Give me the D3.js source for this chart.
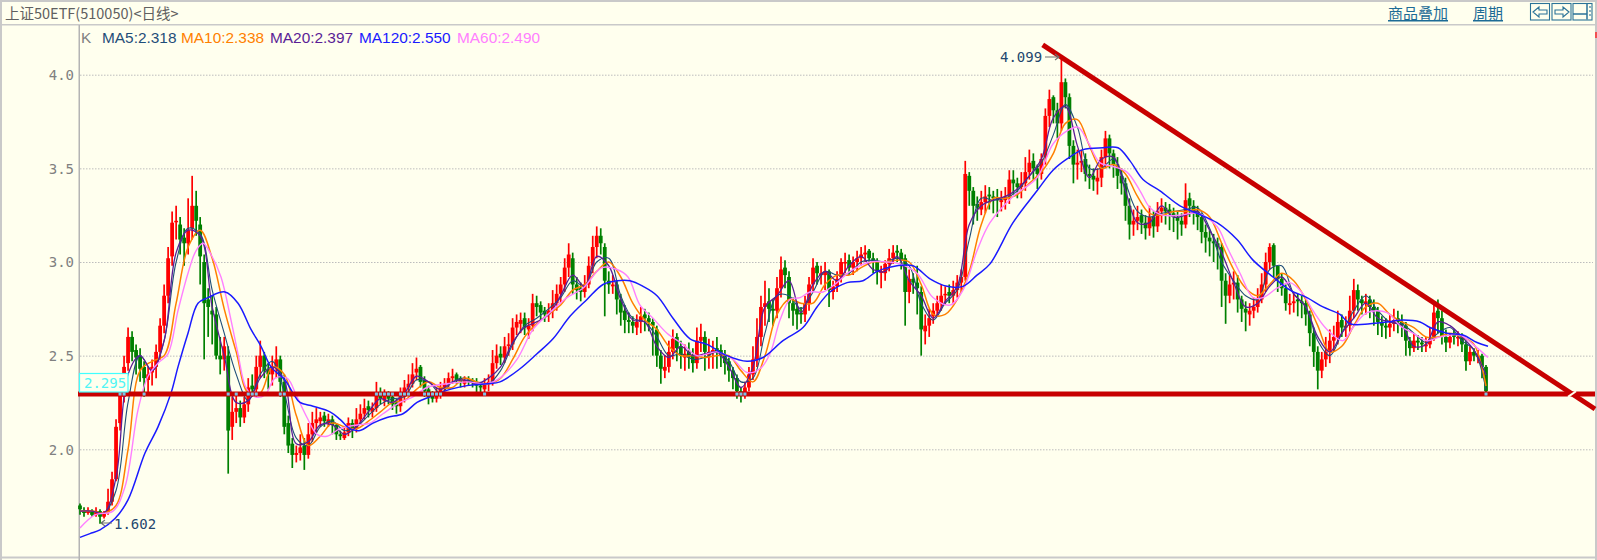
<!DOCTYPE html>
<html><head><meta charset="utf-8">
<script src="https://cdn.jsdelivr.net/npm/d3@7/dist/d3.min.js"></script>
<style>html,body{margin:0;padding:0;background:#ffffee;overflow:hidden}svg{display:block}</style>
</head><body><svg id="c" width="1597" height="560"></svg>
<script>
const closes=[
1.68,1.66,1.67,1.65,1.67,1.64,1.66,1.72,1.84,2.12, 2.30,2.44,2.60,2.52,2.49,2.43,2.38,2.40,2.44,2.52,
2.66,2.82,3.02,3.21,3.22,3.12,3.10,3.17,3.30,3.22, 3.03,2.78,2.76,2.72,2.50,2.48,2.55,2.10,2.20,2.22,
2.17,2.24,2.33,2.32,2.44,2.50,2.42,2.40,2.44,2.48, 2.36,2.12,2.02,1.97,1.98,2.01,1.97,2.08,2.14,2.16,
2.17,2.15,2.16,2.13,2.08,2.07,2.09,2.14,2.11,2.16, 2.19,2.22,2.21,2.22,2.29,2.27,2.29,2.27,2.24,2.23,
2.29,2.33,2.35,2.40,2.43,2.36,2.31,2.28,2.27,2.30, 2.33,2.35,2.38,2.39,2.37,2.36,2.37,2.36,2.36,2.34,
2.33,2.35,2.36,2.46,2.50,2.49,2.55,2.56,2.65,2.68, 2.69,2.65,2.66,2.78,2.76,2.73,2.72,2.74,2.78,2.83,
2.88,2.97,3.04,2.88,2.85,2.84,2.88,2.98,3.08,3.14, 3.10,2.90,2.88,2.88,2.80,2.73,2.69,2.68,2.66,2.68,
2.71,2.70,2.68,2.66,2.50,2.43,2.44,2.52,2.59,2.54, 2.50,2.51,2.49,2.46,2.58,2.60,2.52,2.52,2.53,2.52,
2.50,2.46,2.42,2.38,2.31,2.30,2.33,2.40,2.48,2.60, 2.76,2.78,2.75,2.74,2.86,2.96,2.93,2.78,2.74,2.72,
2.72,2.78,2.88,2.97,2.94,2.94,2.95,2.85,2.87,2.91, 3.00,3.00,2.97,3.00,3.02,3.04,3.05,3.02,3.00,2.95,
2.95,2.99,3.02,3.05,3.05,3.01,2.84,2.91,2.89,2.86, 2.64,2.66,2.70,2.74,2.78,2.82,2.83,2.82,2.85,2.89,
2.92,3.47,3.38,3.30,3.29,3.32,3.35,3.35,3.34,3.33, 3.33,3.35,3.44,3.42,3.40,3.42,3.48,3.53,3.50,3.47,
3.55,3.78,3.87,3.81,3.74,3.96,3.88,3.62,3.52,3.53, 3.54,3.47,3.46,3.44,3.45,3.56,3.66,3.58,3.52,3.46,
3.42,3.30,3.20,3.22,3.24,3.21,3.18,3.24,3.19,3.27, 3.29,3.27,3.26,3.24,3.22,3.20,3.33,3.30,3.27,3.24,
3.16,3.13,3.11,3.10,3.08,2.90,2.82,2.88,2.89,2.80, 2.75,2.73,2.74,2.76,2.80,2.88,3.00,3.08,2.98,2.91,
2.86,2.78,2.78,2.79,2.79,2.78,2.72,2.62,2.52,2.42, 2.48,2.52,2.58,2.60,2.68,2.65,2.66,2.74,2.85,2.80,
2.78,2.79,2.76,2.74,2.68,2.66,2.65,2.67,2.69,2.68, 2.66,2.58,2.54,2.58,2.57,2.56,2.56,2.59,2.73,2.70,
2.60,2.57,2.60,2.60,2.60,2.56,2.47,2.52,2.50,2.50, 2.44,2.31];
const opens=[
1.70,1.67,1.66,1.67,1.65,1.67,1.64,1.66,1.72,1.84, 2.14,2.28,2.46,2.60,2.53,2.50,2.44,2.37,2.41,2.44,
2.52,2.66,2.82,3.03,3.22,3.20,3.13,3.10,3.18,3.30, 3.20,3.00,2.80,2.74,2.72,2.50,2.48,2.50,2.12,2.20,
2.22,2.17,2.24,2.34,2.32,2.44,2.50,2.43,2.40,2.44, 2.48,2.36,2.14,2.03,1.97,1.98,2.02,1.97,2.08,2.14,
2.15,2.18,2.14,2.16,2.13,2.08,2.06,2.09,2.14,2.11, 2.16,2.19,2.23,2.20,2.22,2.30,2.26,2.30,2.28,2.25,
2.23,2.28,2.33,2.35,2.41,2.44,2.37,2.32,2.29,2.27, 2.30,2.33,2.35,2.38,2.40,2.38,2.35,2.37,2.37,2.36,
2.34,2.32,2.35,2.36,2.46,2.51,2.49,2.56,2.56,2.65, 2.67,2.70,2.64,2.66,2.78,2.77,2.74,2.72,2.74,2.78,
2.83,2.88,2.97,3.02,2.88,2.86,2.84,2.88,2.98,3.08, 3.14,3.08,2.90,2.87,2.88,2.80,2.74,2.69,2.68,2.65,
2.68,2.72,2.70,2.68,2.64,2.50,2.42,2.44,2.52,2.60, 2.55,2.49,2.52,2.50,2.46,2.58,2.60,2.50,2.52,2.54,
2.53,2.50,2.47,2.42,2.38,2.31,2.29,2.33,2.40,2.48, 2.60,2.76,2.79,2.75,2.74,2.86,2.97,2.92,2.78,2.75,
2.73,2.72,2.78,2.88,2.98,2.93,2.93,2.95,2.84,2.87, 2.92,3.00,3.01,2.97,3.00,3.02,3.04,3.06,3.02,3.00,
2.95,2.94,2.99,3.02,3.06,3.05,3.02,2.84,2.91,2.89, 2.84,2.63,2.66,2.71,2.74,2.78,2.83,2.84,2.82,2.85,
2.89,2.92,3.46,3.38,3.31,3.28,3.32,3.36,3.35,3.34, 3.32,3.33,3.35,3.44,3.42,3.40,3.42,3.48,3.54,3.50,
3.47,3.56,3.78,3.88,3.81,3.74,3.96,3.88,3.62,3.52, 3.53,3.55,3.47,3.46,3.43,3.45,3.56,3.66,3.58,3.52,
3.46,3.42,3.30,3.20,3.22,3.25,3.21,3.18,3.24,3.19, 3.27,3.29,3.28,3.26,3.24,3.22,3.20,3.34,3.30,3.27,
3.24,3.16,3.13,3.11,3.10,3.08,2.90,2.82,2.88,2.89, 2.80,2.75,2.72,2.74,2.76,2.80,2.88,3.00,3.09,2.98,
2.91,2.86,2.77,2.78,2.80,2.79,2.78,2.72,2.62,2.52, 2.42,2.48,2.52,2.58,2.60,2.69,2.65,2.66,2.74,2.85,
2.80,2.78,2.80,2.76,2.74,2.68,2.66,2.65,2.67,2.70, 2.68,2.66,2.58,2.54,2.58,2.57,2.55,2.56,2.60,2.74,
2.70,2.60,2.57,2.61,2.60,2.60,2.56,2.47,2.52,2.50, 2.50,2.44];
const highs=[
1.71,1.69,1.69,1.68,1.69,1.68,1.67,1.79,1.88,2.16, 2.34,2.50,2.65,2.63,2.56,2.54,2.47,2.44,2.48,2.56,
2.70,2.88,3.08,3.27,3.30,3.24,3.18,3.34,3.46,3.38, 3.24,3.04,2.86,2.82,2.76,2.60,2.60,2.55,2.28,2.30,
2.26,2.28,2.38,2.40,2.50,2.58,2.52,2.46,2.50,2.55, 2.50,2.40,2.18,2.06,2.02,2.08,2.06,2.14,2.20,2.22,
2.20,2.20,2.19,2.18,2.14,2.10,2.12,2.17,2.16,2.22, 2.24,2.27,2.26,2.25,2.36,2.33,2.32,2.31,2.30,2.27,
2.33,2.37,2.40,2.46,2.49,2.45,2.39,2.34,2.31,2.33, 2.36,2.38,2.41,2.43,2.41,2.39,2.39,2.39,2.38,2.38,
2.36,2.38,2.40,2.53,2.56,2.55,2.60,2.62,2.70,2.72, 2.73,2.73,2.70,2.83,2.82,2.79,2.76,2.78,2.85,2.88,
2.92,3.02,3.10,3.05,2.92,2.89,2.93,3.03,3.14,3.19, 3.18,3.10,2.95,2.93,2.90,2.83,2.77,2.73,2.71,2.72,
2.76,2.75,2.73,2.70,2.66,2.53,2.50,2.58,2.64,2.62, 2.58,2.56,2.57,2.54,2.65,2.67,2.63,2.59,2.58,2.60,
2.56,2.53,2.49,2.44,2.40,2.33,2.36,2.44,2.55,2.70, 2.82,2.90,2.86,2.80,2.92,3.03,3.01,2.95,2.81,2.79,
2.76,2.82,2.92,3.02,3.00,2.98,3.00,2.96,2.90,2.95, 3.02,3.05,3.04,3.03,3.06,3.08,3.09,3.07,3.05,3.02,
2.98,3.01,3.07,3.09,3.09,3.07,3.04,2.96,2.94,2.98, 2.87,2.72,2.75,2.78,2.82,2.88,2.87,2.88,2.90,2.93,
2.96,3.54,3.48,3.40,3.35,3.38,3.41,3.40,3.38,3.39, 3.38,3.40,3.49,3.49,3.45,3.48,3.56,3.60,3.58,3.52,
3.58,3.82,3.92,3.89,3.85,4.099,3.98,3.90,3.65,3.60, 3.60,3.58,3.52,3.50,3.50,3.60,3.70,3.68,3.60,3.56,
3.50,3.45,3.34,3.28,3.30,3.28,3.25,3.30,3.27,3.32, 3.34,3.32,3.31,3.29,3.27,3.26,3.42,3.37,3.33,3.30,
3.26,3.20,3.17,3.15,3.13,3.10,2.94,2.93,2.95,2.93, 2.82,2.79,2.78,2.81,2.86,2.94,3.05,3.10,3.10,2.96,
2.94,2.88,2.83,2.84,2.83,2.82,2.80,2.74,2.65,2.55, 2.52,2.60,2.64,2.66,2.74,2.72,2.71,2.82,2.91,2.88,
2.82,2.83,2.82,2.80,2.76,2.71,2.70,2.72,2.75,2.74, 2.72,2.68,2.60,2.62,2.61,2.60,2.60,2.65,2.78,2.80,
2.74,2.64,2.62,2.64,2.63,2.62,2.58,2.55,2.54,2.53, 2.51,2.45];
const lows=[
1.65,1.64,1.65,1.64,1.64,1.602,1.63,1.65,1.70,1.83, 2.10,2.25,2.42,2.47,2.40,2.36,2.28,2.30,2.34,2.38,
2.48,2.62,2.78,2.98,3.12,3.04,2.98,3.04,3.12,3.14, 2.88,2.48,2.60,2.56,2.48,2.40,2.42,1.87,2.05,2.14,
2.12,2.14,2.20,2.28,2.28,2.38,2.38,2.32,2.34,2.38, 2.28,2.08,1.98,1.90,1.93,1.94,1.89,1.95,2.04,2.09,
2.12,2.12,2.12,2.08,2.05,2.05,2.05,2.07,2.06,2.09, 2.13,2.16,2.17,2.17,2.20,2.24,2.23,2.24,2.21,2.19,
2.20,2.25,2.29,2.33,2.37,2.33,2.28,2.24,2.25,2.25, 2.27,2.31,2.33,2.35,2.35,2.33,2.33,2.34,2.33,2.30,
2.30,2.29,2.31,2.34,2.43,2.45,2.46,2.50,2.53,2.61, 2.62,2.61,2.59,2.63,2.71,2.69,2.68,2.68,2.70,2.74,
2.78,2.84,2.92,2.83,2.80,2.79,2.81,2.86,2.94,3.02, 3.04,2.71,2.83,2.83,2.72,2.66,2.62,2.62,2.62,2.61,
2.62,2.63,2.63,2.50,2.44,2.35,2.38,2.41,2.48,2.47, 2.43,2.42,2.43,2.41,2.43,2.52,2.42,2.43,2.43,2.43,
2.44,2.40,2.36,2.32,2.27,2.25,2.27,2.31,2.37,2.44, 2.55,2.66,2.68,2.66,2.70,2.81,2.86,2.70,2.66,2.64,
2.67,2.68,2.74,2.84,2.88,2.88,2.85,2.76,2.80,2.84, 2.89,2.94,2.93,2.93,2.95,2.98,3.00,2.99,2.94,2.88,
2.86,2.90,2.95,2.99,3.00,2.96,2.66,2.78,2.83,2.72, 2.50,2.56,2.60,2.67,2.71,2.74,2.77,2.78,2.78,2.81,
2.84,2.90,3.30,3.20,3.22,3.25,3.26,3.28,3.26,3.24, 3.27,3.28,3.31,3.36,3.34,3.34,3.38,3.44,3.44,3.39,
3.44,3.52,3.72,3.74,3.66,3.70,3.82,3.55,3.42,3.44, 3.48,3.43,3.39,3.38,3.36,3.40,3.50,3.50,3.45,3.39,
3.36,3.22,3.12,3.14,3.17,3.15,3.12,3.14,3.13,3.16, 3.21,3.20,3.17,3.16,3.12,3.14,3.18,3.24,3.20,3.17,
3.10,3.05,3.03,3.00,2.96,2.76,2.67,2.78,2.80,2.73, 2.68,2.63,2.66,2.70,2.73,2.78,2.84,2.96,2.92,2.84,
2.82,2.74,2.72,2.73,2.71,2.70,2.66,2.55,2.44,2.32, 2.38,2.44,2.46,2.52,2.56,2.60,2.60,2.62,2.70,2.74,
2.72,2.72,2.70,2.66,2.61,2.60,2.59,2.60,2.63,2.62, 2.60,2.50,2.50,2.52,2.53,2.52,2.52,2.54,2.58,2.62,
2.56,2.52,2.54,2.56,2.55,2.52,2.42,2.45,2.47,2.46, 2.38,2.285];

// short moving averages, read every third session
const ma5=[
1.67,1.67,1.66,1.78,2.25,2.50,2.42,2.58,3.00,3.18, 3.15,2.85,2.62,2.40,2.26,2.40,2.47,2.30,2.06,2.02,
2.12,2.15,2.10,2.12,2.18,2.24,2.27,2.28,2.37,2.36, 2.30,2.36,2.38,2.35,2.35,2.42,2.56,2.66,2.70,2.75,
2.81,2.90,2.87,3.00,3.02,2.82,2.70,2.68,2.60,2.50, 2.51,2.48,2.49,2.52,2.47,2.36,2.38,2.62,2.82,2.82,
2.75,2.84,2.95,2.93,2.94,3.00,3.01,3.00,3.02,2.98, 2.78,2.69,2.78,2.85,3.12,3.34,3.33,3.34,3.38,3.46,
3.53,3.68,3.84,3.72,3.50,3.50,3.55,3.42,3.27,3.24, 3.26,3.27,3.28,3.29,3.18,3.00,2.90,2.82,2.80,2.96,
2.98,2.83,2.76,2.58,2.50,2.62,2.74,2.82,2.74,2.68, 2.67,2.62,2.57,2.62,2.65,2.58,2.53,2.318];
const ma10=[
1.67,1.67,1.66,1.70,2.00,2.42,2.47,2.50,2.78,3.08, 3.17,3.02,2.75,2.52,2.30,2.30,2.44,2.40,2.18,2.02,
2.07,2.14,2.12,2.11,2.15,2.20,2.25,2.26,2.32,2.36, 2.33,2.33,2.38,2.36,2.35,2.38,2.48,2.60,2.67,2.72,
2.77,2.85,2.88,2.95,3.00,2.92,2.78,2.69,2.64,2.55, 2.50,2.50,2.49,2.50,2.50,2.42,2.36,2.50,2.72,2.80,
2.78,2.78,2.88,2.93,2.93,2.97,3.00,3.00,3.01,3.00, 2.88,2.72,2.72,2.80,2.95,3.20,3.34,3.34,3.36,3.42,
3.48,3.58,3.74,3.76,3.62,3.50,3.52,3.47,3.35,3.26, 3.25,3.27,3.27,3.28,3.24,3.10,2.96,2.86,2.82,2.88,
2.94,2.90,2.80,2.66,2.52,2.55,2.66,2.76,2.78,2.72, 2.68,2.65,2.60,2.60,2.62,2.60,2.56,2.338];
const ma20=[
1.67,1.67,1.66,1.85,2.40,2.50,2.42,2.58,3.05,3.17, 3.14,2.76,2.50,2.25,2.26,2.38,2.44,2.37,2.03,2.04,
2.13,2.13,2.08,2.12,2.20,2.27,2.25,2.30,2.39,2.36, 2.32,2.36,2.37,2.35,2.38,2.44,2.57,2.65,2.68,2.72,
2.82,2.93,2.87,3.03,2.98,2.80,2.69,2.68,2.55,2.49, 2.55,2.50,2.51,2.52,2.44,2.33,2.44,2.76,2.82,2.90,
2.73,2.88,2.95,2.90,2.98,3.03,2.96,2.95,3.03,2.90, 2.82,2.70,2.79,2.87,3.20,3.30,3.33,3.35,3.39,3.46,
3.55,3.77,3.83,3.62,3.45,3.55,3.56,3.38,3.21,3.21, 3.30,3.24,3.25,3.27,3.17,3.05,2.89,2.76,2.78,2.87,
2.92,2.83,2.76,2.60,2.52,2.62,2.70,2.78,2.70,2.68, 2.66,2.55,2.56,2.68,2.66,2.60,2.53,2.397];

// long moving averages, read at their turning points
const ma60Px=[80,95,113,125,138,148,158,168,178,188,196,203,211,221,231,238,246,255,265,275,287,297,307,317,327,340,357,370,383,400,413,427,447,467,487,500,517,533,550,567,583,602,617,628,640,653,667,683,697,717,733,747,760,770,780,790,800,810,823,837,850,870,887,900,917,933,950,963,977,990,1013,1037,1053,1067,1078,1088,1100,1113,1127,1140,1150,1163,1180,1197,1217,1227,1240,1253,1263,1277,1290,1303,1313,1327,1343,1353,1367,1387,1400,1413,1427,1440,1460,1473,1488];
const ma60=[1.58,1.65,1.67,1.80,2.21,2.39,2.46,2.51,2.74,2.94,3.06,3.10,3.04,2.92,2.69,2.51,2.33,2.28,2.29,2.38,2.38,2.28,2.17,2.08,2.07,2.11,2.13,2.14,2.19,2.25,2.28,2.33,2.35,2.36,2.35,2.38,2.48,2.64,2.73,2.81,2.86,2.97,2.96,2.92,2.77,2.70,2.62,2.56,2.50,2.52,2.48,2.41,2.43,2.51,2.69,2.80,2.81,2.84,2.84,2.89,2.95,3.00,3.00,2.99,2.94,2.81,2.77,2.85,3.06,3.21,3.35,3.45,3.63,3.70,3.72,3.64,3.53,3.51,3.48,3.38,3.29,3.25,3.25,3.26,3.19,3.08,2.94,2.81,2.81,2.86,2.89,2.83,2.74,2.64,2.58,2.65,2.73,2.73,2.66,2.62,2.58,2.60,2.61,2.56,2.49];
const ma120Px=[80,90,100,115,128,145,158,171,178,188,198,208,225,238,251,261,271,285,293,300,313,330,340,350,360,373,387,403,417,430,450,467,487,500,520,537,553,570,587,603,617,630,643,657,673,690,707,727,747,763,783,803,817,830,847,863,877,897,913,930,947,963,977,990,1013,1037,1053,1067,1083,1103,1118,1130,1143,1160,1180,1197,1217,1237,1253,1273,1290,1307,1323,1340,1350,1370,1387,1403,1420,1430,1447,1463,1477,1488];
const ma120=[1.53,1.55,1.57,1.63,1.73,1.98,2.12,2.30,2.44,2.62,2.78,2.81,2.84,2.78,2.64,2.55,2.44,2.37,2.30,2.25,2.23,2.20,2.16,2.11,2.10,2.14,2.17,2.19,2.25,2.28,2.32,2.34,2.35,2.36,2.43,2.51,2.59,2.71,2.80,2.88,2.90,2.90,2.87,2.82,2.70,2.59,2.56,2.50,2.47,2.49,2.58,2.65,2.76,2.84,2.89,2.90,2.95,2.98,2.98,2.91,2.87,2.87,2.93,2.99,3.21,3.38,3.49,3.55,3.60,3.61,3.61,3.54,3.44,3.38,3.30,3.26,3.21,3.12,3.01,2.92,2.85,2.81,2.76,2.72,2.67,2.67,2.68,2.69,2.68,2.65,2.62,2.61,2.57,2.55];

const gridTicks=[2.0,2.5,3.0,3.5,4.0];
const legendItems=[["K","#808080",81],["MA5:2.318","#1f4e79",102],["MA10:2.338","#ff8000",181],["MA20:2.397","#5a1e96",270],["MA120:2.550","#1a1aff",359],["MA60:2.490","#ff80ff",457]];
const supportPrice=2.295;
const trendX=[1042.7,1595], trendP=[4.159,2.215];
const BG="#ffffee", RED="#c80000";

const svg=d3.select("#c");
const x=d3.scaleLinear().domain([0,closes.length-1]).range([80,1486]);
const y=d3.scaleLinear().domain([2,4]).range([449.3,74.7]);
const px=d3.scaleIdentity();

svg.append("rect").attr("width",1597).attr("height",560).attr("fill",BG);
// frame
const frame=svg.append("g").attr("fill","#c9c9c9");
frame.append("rect").attr("x",0).attr("y",0).attr("width",1597).attr("height",2);
frame.append("rect").attr("x",0).attr("y",0).attr("width",2).attr("height",560);
frame.append("rect").attr("x",2).attr("y",24).attr("width",1593).attr("height",1.5);
frame.append("rect").attr("x",2).attr("y",556.5).attr("width",1593).attr("height",2);
frame.append("rect").attr("x",1595).attr("y",0).attr("width",2).attr("height",560);
frame.append("rect").attr("x",78.5).attr("y",25).attr("width",1.5).attr("height",535).attr("fill","#b4b4b4");
svg.append("rect").attr("x",1595).attr("y",32).attr("width",2).attr("height",6).attr("fill","#f05050");

// header
svg.append("text").attr("x",5).attr("y",19).attr("font-family","'Noto Sans CJK SC',sans-serif").attr("font-size",14.5).attr("fill","#606060").text("上证50ETF(510050)<日线>");
const link=svg.append("g").attr("font-family","'Noto Sans CJK SC',sans-serif").attr("font-size",15).attr("fill","#1c6b96").attr("text-decoration","underline");
link.append("text").attr("x",1388).attr("y",19).text("商品叠加");
link.append("text").attr("x",1473).attr("y",19).text("周期");
const btnX=[1530.5,1552,1573];
const btn=svg.append("g").attr("fill","none").attr("stroke","#2b7398").attr("stroke-width",1.1);
btnX.forEach(b=>btn.append("rect").attr("x",b).attr("y",3.5).attr("width",19).attr("height",16.5));
btn.append("path").attr("d","M1533 12l6-5v3h8v4h-8v3z");
btn.append("path").attr("d","M1569 12l-6-5v3h-8v4h8v3z");
btn.append("path").attr("d","M1573 14h14M1587 3.5v16").attr("stroke-width",1.5);
btn.append("path").attr("d","M1590 6v12").attr("stroke-dasharray","2 2");

// axis and grid
const axis=d3.axisLeft(y).tickValues(gridTicks).tickFormat(d3.format(".1f")).tickSize(0).tickPadding(0);
const ag=svg.append("g").attr("transform","translate(74,0)").call(axis);
ag.select(".domain").remove();
ag.selectAll("text").attr("font-family","'DejaVu Sans Mono',monospace").attr("font-size",14).attr("fill","#808080").attr("dy","0.35em");
svg.append("g").selectAll("line").data(gridTicks).join("line")
  .attr("x1",80).attr("x2",1593).attr("y1",d=>y(d)+.5).attr("y2",d=>y(d)+.5)
  .attr("stroke","#bdbdbd").attr("stroke-width",1).attr("stroke-dasharray","1.5 1.5");

// legend
svg.append("g").selectAll("text").data(legendItems).join("text")
  .attr("x",d=>d[2]).attr("y",43).attr("font-family","'Liberation Sans',sans-serif").attr("font-size",15.4)
  .attr("fill",d=>d[1]).text(d=>d[0]);

// candles
const idx=d3.range(closes.length);
const col=i=>closes[i]>=opens[i]?"#ff0000":"#008000";
svg.append("g").selectAll("line").data(idx).join("line")
  .attr("x1",i=>x(i)).attr("x2",i=>x(i)).attr("y1",i=>y(highs[i])).attr("y2",i=>y(lows[i]))
  .attr("stroke",col).attr("stroke-width",1.7);
svg.append("g").selectAll("rect").data(idx).join("rect")
  .attr("x",i=>x(i)-1.9).attr("width",3.8)
  .attr("y",i=>y(Math.max(opens[i],closes[i])))
  .attr("height",i=>Math.max(1.5,Math.abs(y(opens[i])-y(closes[i]))))
  .attr("fill",col);

// moving averages
const gridLine=vals=>d3.line().x((d,k)=>x(Math.min(k*3,closes.length-1))).y(d=>y(d)).curve(d3.curveCatmullRom.alpha(.5))(vals);
const pxLine=(xs,vals)=>d3.line().x((d,k)=>px(xs[k])).y(d=>y(d)).curve(d3.curveCatmullRom.alpha(.5))(vals);
const ln=svg.append("g").attr("fill","none").attr("stroke-linejoin","round");
ln.append("path").attr("d",gridLine(ma5)).attr("stroke","#1f4e79").attr("stroke-width",1.1);
ln.append("path").attr("d",gridLine(ma10)).attr("stroke","#ff8000").attr("stroke-width",1.5);
ln.append("path").attr("d",gridLine(ma20)).attr("stroke","#5a1e96").attr("stroke-width",1.3);
ln.append("path").attr("d",pxLine(ma60Px,ma60)).attr("stroke","#ff80ff").attr("stroke-width",1.4);
ln.append("path").attr("d",pxLine(ma120Px,ma120)).attr("stroke","#1a1aff").attr("stroke-width",1.5);

// support and trend lines
svg.append("line").attr("x1",78).attr("x2",1595).attr("y1",y(supportPrice)).attr("y2",y(supportPrice)).attr("stroke",RED).attr("stroke-width",5);
svg.append("line").attr("x1",trendX[0]).attr("x2",trendX[1]).attr("y1",y(trendP[0])).attr("y2",y(trendP[1])).attr("stroke",RED).attr("stroke-width",5);
svg.append("line").attr("x1",1568).attr("x2",1576).attr("y1",y(2.28)).attr("y2",y(2.31)).attr("stroke",BG).attr("stroke-width",2);
// sessions that trade through the support line leave a light mark on it
const crossing=idx.filter(i=>lows[i]<supportPrice&&highs[i]>supportPrice);
svg.append("g").selectAll("rect").data(crossing).join("rect")
  .attr("x",i=>x(i)-1.5).attr("width",3).attr("y",y(supportPrice)-1.5).attr("height",3).attr("fill","#7cc4e8");

// price tag
svg.append("rect").attr("x",79.5).attr("y",373.5).attr("width",48.5).attr("height",18.5).attr("fill",BG).attr("stroke","#40ffff").attr("stroke-width",1.2);
svg.append("text").attr("x",84).attr("y",388).attr("font-family","'DejaVu Sans Mono',monospace").attr("font-size",14).attr("fill","#50f5f5").text(d3.format(".3f")(supportPrice));

// extremes
const note=svg.append("g").attr("font-family","'DejaVu Sans Mono',monospace").attr("font-size",14).attr("fill","#24476e");
note.append("text").attr("x",1000).attr("y",62).text(d3.format(".3f")(d3.max(highs)));
note.append("text").attr("x",114).attr("y",528.5).text(d3.format(".3f")(d3.min(lows)));
const arrows=svg.append("g").attr("fill","none").attr("stroke","#707070").attr("stroke-width",1.1);
arrows.append("path").attr("d","M1045 57h14m-4 -3l4 3l-4 3");
arrows.append("path").attr("d","M101 523h11m-11 0l4 -3m-4 3l4 3");
</script></body></html>
